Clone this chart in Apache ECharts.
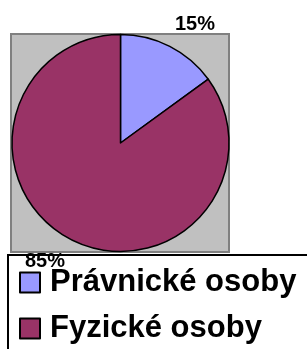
<!DOCTYPE html>
<html>
<head>
<meta charset="utf-8">
<script src="https://cdn.jsdelivr.net/npm/echarts@6/dist/echarts.min.js"></script>
<style>
  html, body { margin: 0; padding: 0; background: #fff; }
  #chart { width: 307px; height: 349px; }
</style>
</head>
<body>
<div id="chart"></div>
<script>
// data
const categories = ['Právnické osoby', 'Fyzické osoby'];
const shares = [15, 85];
const colors = ['#9999ff', '#993366'];

const chart = echarts.init(document.getElementById('chart'));

const option = {
  animation: false,
  graphic: [
    {
      // grey plot area behind the pie
      type: 'rect',
      z: -10,
      shape: { x: 11, y: 34, width: 218, height: 218 },
      style: { fill: '#c0c0c0', stroke: '#808080', lineWidth: 2 },
    },
    {
      // legend frame, runs off the right and bottom edge, drawn over the 85% label
      type: 'rect',
      z: 100,
      shape: { x: 8, y: 255, width: 330, height: 130 },
      style: { fill: 'none', stroke: '#000', lineWidth: 2 },
    },
  ],
  legend: {
    orient: 'vertical',
    left: 19,
    top: 267,
    height: 150,
    padding: 0,
    itemWidth: 20,
    itemHeight: 20,
    itemGap: 15,
    icon: 'rect',
    data: categories,
    textStyle: {
      fontFamily: 'Liberation Sans, Arial, sans-serif',
      fontWeight: 'bold',
      fontSize: 31,
      color: '#000',
      padding: [0, 0, 0, 5],
    },
  },
  series: [
    {
      type: 'pie',
      // the series box bounds the percentage labels (alignTo: 'edge')
      left: 25,
      top: 0,
      width: 190,
      height: 349,
      center: [95.5, 143],
      radius: 108.5,
      startAngle: 90,
      clockwise: true,
      avoidLabelOverlap: false,
      itemStyle: { borderColor: '#000', borderWidth: 1.5 },
      label: {
        show: true,
        position: 'outside',
        alignTo: 'edge',
        edgeDistance: 0,
        formatter: '{c}%',
        fontFamily: 'Liberation Sans, Arial, sans-serif',
        fontWeight: 'bold',
        fontSize: 20,
        color: '#000',
      },
      labelLine: { show: false, length: 25, length2: 0 },
      emphasis: { disabled: true },
      data: categories.map((name, i) => ({
        name,
        value: shares[i],
        itemStyle: { color: colors[i] },
      })),
    },
  ],
};

chart.setOption(option);
</script>
</body>
</html>
